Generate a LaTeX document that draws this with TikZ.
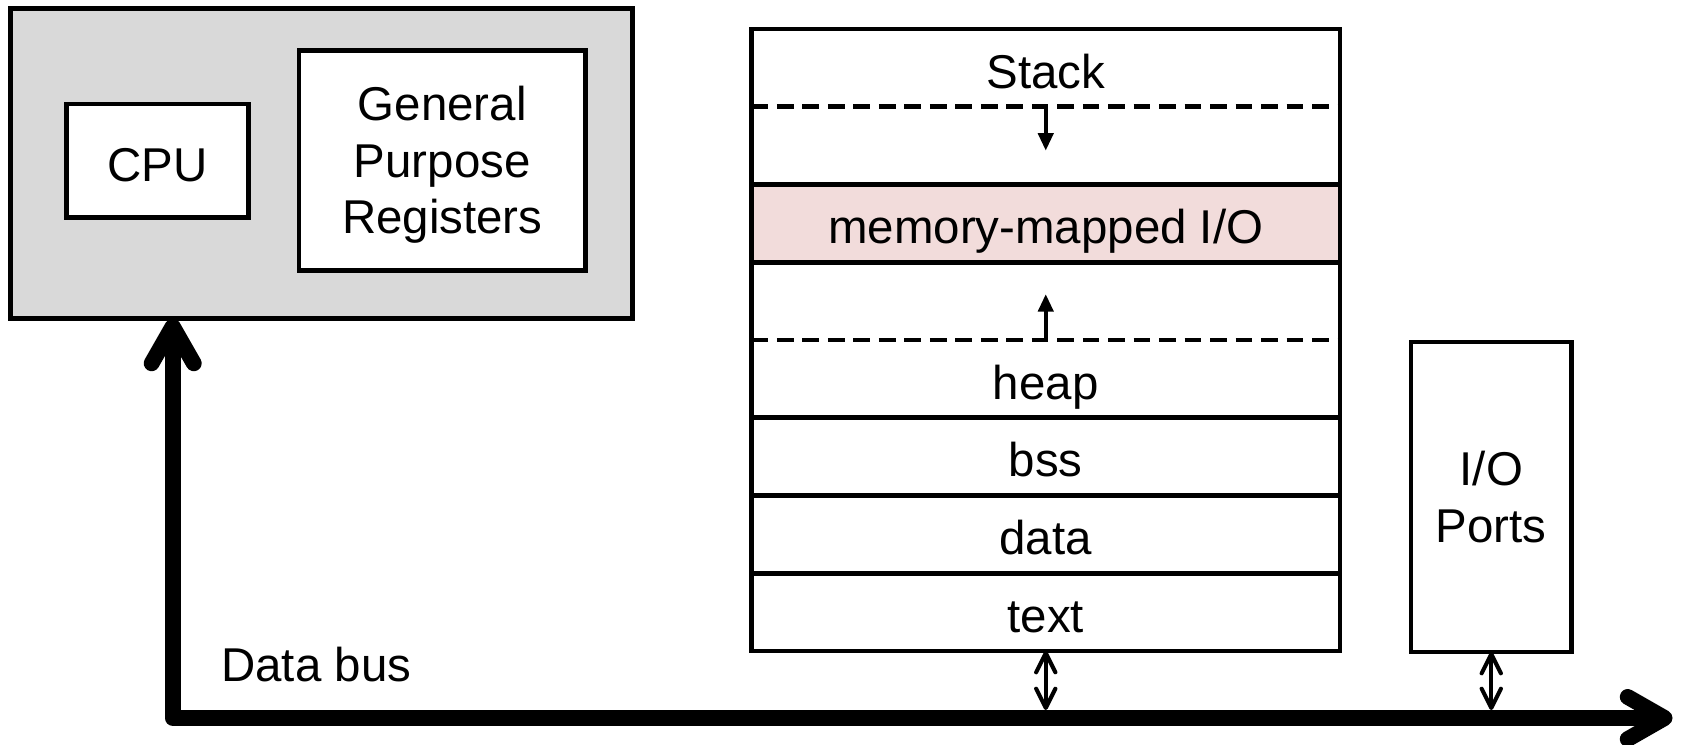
\documentclass[tikz,border=0pt]{standalone}
\usepackage{fontspec}
\setmainfont{Liberation Sans}
\usetikzlibrary{arrows.meta,positioning}
\definecolor{mmiofill}{HTML}{F2DCDB}
\tikzset{
  box/.style={draw, line width=2.6pt, fill=white, inner sep=0pt, outer sep=0pt, align=center},
  memrow/.style={minimum width=11.77cm, minimum height=1.555cm, inner sep=0pt, outer sep=0pt,
    text height=23pt, text depth=0pt},
  sepline/.style={line width=2.6pt},
  dashline/.style={line width=2.8pt, dash pattern=on 9.5pt off 5pt},
  bus/.style={line width=9pt, line cap=round, line join=round,
    {Straight Barb[round, length=21pt, width=24pt]}-{Straight Barb[round, length=21pt, width=24pt]}},
  port/.style={line width=2.3pt,
    {Straight Barb[round, length=11pt, width=11pt]}-{Straight Barb[round, length=11pt, width=11pt]}},
  growarrow/.style={line width=2.4pt, -{Triangle[length=10pt, width=8.5pt]}}
}

\begin{document}
\begin{tikzpicture}[font=\fontsize{27}{32.2}\selectfont]
  %%%%% START %%%%%
  \useasboundingbox (0,0) rectangle (33.62,-14.88);

  % processor side
  \node[box, fill=gray!30, minimum width=12.44cm, minimum height=6.2cm] (sys) at (6.432,-3.27) {};
  \node[box, minimum width=3.64cm, minimum height=2.27cm, text height=23pt, text depth=0pt] (cpu) at (3.152,-3.216) {CPU};
  \node[box, minimum width=5.73cm, minimum height=4.4cm, text depth=0.5pt] (gpr) at (8.845,-3.206) {General\\Purpose\\Registers};

  % memory layout
  \node[memrow, anchor=north] (stack) at (20.915,-0.58) {Stack};
  \node[memrow, below=0pt of stack] (free1) {};
  \node[memrow, below=0pt of free1, fill=mmiofill] (mmio) {memory-mapped I/O};
  \node[memrow, below=0pt of mmio] (free2) {};
  \node[memrow, below=0pt of free2] (heap) {heap};
  \node[memrow, below=0pt of heap] (bss) {bss};
  \node[memrow, below=0pt of bss] (data) {data};
  \node[memrow, below=0pt of data] (txt) {text};

  \draw[sepline] (stack.north west) rectangle (txt.south east);
  \draw[dashline] (stack.south west) -- (stack.south east);
  \draw[sepline] (free1.south west) -- (free1.south east);
  \draw[sepline] (mmio.south west) -- (mmio.south east);
  \draw[dashline] (free2.south west) -- (free2.south east);
  \foreach \r in {heap,bss,data}
    \draw[sepline] (\r.south west) -- (\r.south east);

  \coordinate[below=0.88cm of stack.south] (stackgrow);
  \coordinate[above=0.92cm of free2.south] (heapgrow);
  \draw[growarrow] (stack.south) -- (stackgrow);
  \draw[growarrow] (free2.south) -- (heapgrow);

  % ports
  \node[box, minimum width=3.21cm, minimum height=6.2cm] (io) at (29.825,-9.94) {I/O\\Ports};

  % bus
  \coordinate (corner) at (3.454,-14.36);
  \coordinate (busend) at (33.45,-14.36);
  \coordinate (bustop) at (0,-14.2);
  \draw[bus] (corner |- sys.south) -- (corner) -- (busend);
  \node[inner sep=0pt, anchor=base west] (buslabel) at (4.42,-13.62) {Data bus};

  \draw[port] (txt.south) -- (txt.south |- bustop);
  \draw[port] (io.south) -- (io.south |- bustop);
  %%%%% END %%%%%
\end{tikzpicture}
\end{document}
